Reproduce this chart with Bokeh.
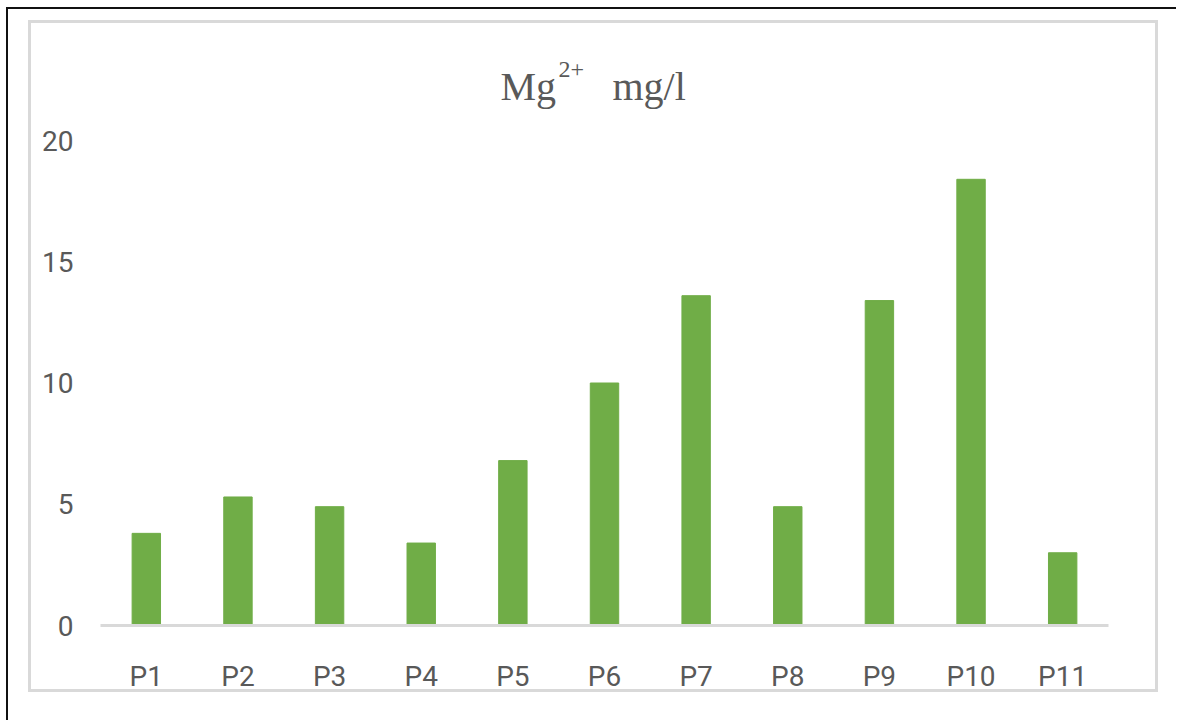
from bokeh.plotting import figure
from bokeh.models import Range1d, FixedTicker
from bokeh.core.properties import value
from bokeh.embed import file_html
from bokeh.resources import INLINE

# Mg2+ concentration per sampling point (mg/l)
points = ["P1", "P2", "P3", "P4", "P5", "P6", "P7", "P8", "P9", "P10", "P11"]
mg_values = [3.8, 5.3, 4.9, 3.4, 6.8, 10.0, 13.6, 4.9, 13.4, 18.4, 3.0]
y_ticks = [0, 5, 10, 15, 20]

xs = list(range(1, len(points) + 1))

GREY_TEXT = "#595959"
LABEL_FONT = "Roboto"

# canvas is offset by the dark edge drawn with CSS on the top/left
OX, OY = 8, 9
FRAME_TOP, FRAME_BOTTOM = 24, 625
PX_PER_UNIT = 24.25

# light grey chart-area box, drawn as CSS background lines behind a transparent border area
bx0, by0, bx1, by1, bw = 28 - OX, 20 - OY, 1158 - OX, 692 - OY, 3
box_w, box_h = bx1 - bx0, by1 - by0
grey_line = "linear-gradient(#d9d9d9, #d9d9d9)"

p = figure(
    width=1178 - OX, height=722 - OY,
    x_range=Range1d(0.5, len(points) + 0.5),
    y_range=Range1d(0, (FRAME_BOTTOM - FRAME_TOP) / PX_PER_UNIT),
    output_backend="svg", toolbar_location=None,
    min_border_left=100 - OX, min_border_right=70,
    min_border_top=FRAME_TOP - OY, min_border_bottom=722 - FRAME_BOTTOM,
)
p.styles = {
    "border-top": "2px solid #111111", "border-left": "2px solid #111111",
    "margin-left": "6px", "margin-top": "7px",
    "background-color": "white",
    "background-image": ", ".join([grey_line] * 4),
    "background-repeat": "no-repeat",
    "background-position": f"{bx0}px {by0}px, {bx0}px {by0}px, {bx0}px {by1 - bw}px, {bx1 - bw}px {by0}px",
    "background-size": f"{box_w}px {bw}px, {bw}px {box_h}px, {box_w}px {bw}px, {bw}px {box_h}px",
}
p.outline_line_color = None
p.xgrid.grid_line_color = None
p.ygrid.grid_line_color = None
p.background_fill_color = "white"
p.border_fill_color = None

p.vbar(x=xs, top=mg_values, width=0.31, fill_color="#70ad47", line_color="#70ad47")

# x axis: point names at integer positions
p.xaxis.ticker = FixedTicker(ticks=xs)
p.xaxis.major_label_overrides = {x: name for x, name in zip(xs, points)}
p.xaxis.axis_line_color = "#d9d9d9"
p.xaxis.axis_line_width = 3
p.xaxis.major_tick_line_color = None
p.xaxis.minor_tick_line_color = None
p.xaxis.major_label_standoff = 28
p.xaxis.major_label_text_font = LABEL_FONT
p.xaxis.major_label_text_font_size = "28px"
p.xaxis.major_label_text_color = GREY_TEXT

# y axis: no line, labels only
p.yaxis.ticker = FixedTicker(ticks=y_ticks)
p.yaxis.axis_line_color = None
p.yaxis.major_tick_line_color = None
p.yaxis.minor_tick_line_color = None
p.yaxis.major_label_standoff = 21
p.yaxis.major_label_text_font = LABEL_FONT
p.yaxis.major_label_text_font_size = "28px"
p.yaxis.major_label_text_color = GREY_TEXT

# chart title: "Mg" with a superscript "2+", then the unit
def px_to_x(px):
    return 1 + (px - 145.8) / 91.64

def px_to_y(py):
    return (FRAME_BOTTOM - py) / PX_PER_UNIT

title_font = value("Liberation Serif")
p.text(x=[px_to_x(500)], y=[px_to_y(86)], text=["Mg"],
       text_font=title_font, text_font_size="40px",
       text_color=GREY_TEXT, text_baseline="alphabetic", text_align="left")
p.text(x=[px_to_x(558)], y=[px_to_y(69)], text=["2+"],
       text_font=title_font, text_font_size="24px",
       text_color=GREY_TEXT, text_baseline="alphabetic", text_align="left")
p.text(x=[px_to_x(612)], y=[px_to_y(86)], text=["mg/l"],
       text_font=title_font, text_font_size="40px",
       text_color=GREY_TEXT, text_baseline="alphabetic", text_align="left")

open("out.html", "w").write(file_html(p, INLINE))
